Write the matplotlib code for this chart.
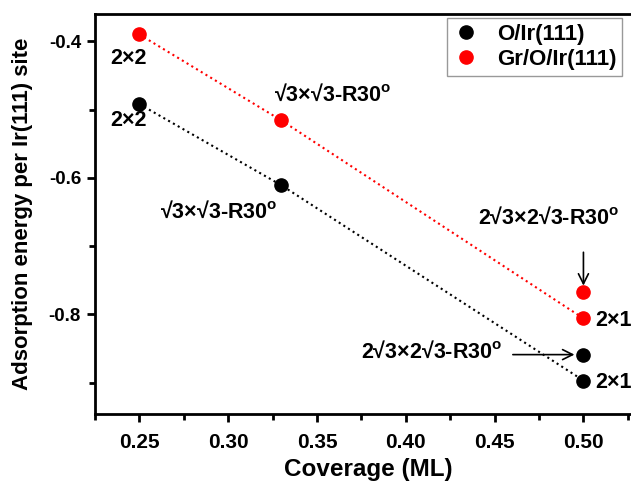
import matplotlib
matplotlib.use("Agg")
import matplotlib.pyplot as plt
from matplotlib.ticker import MultipleLocator

plt.rcParams['font.family'] = ['Liberation Sans', 'DejaVu Sans']
plt.rcParams['font.weight'] = 'bold'
plt.rcParams['mathtext.fontset'] = 'custom'
plt.rcParams['mathtext.rm'] = 'Liberation Sans:bold'
plt.rcParams['mathtext.bf'] = 'Liberation Sans:bold'

# data
cov = [0.25, 0.33, 0.50, 0.50]
e_o = [-0.492, -0.611, -0.859, -0.897]      # O/Ir(111)
e_gr = [-0.390, -0.516, -0.768, -0.806]     # Gr/O/Ir(111)
line_idx = [0, 1, 3]  # points joined by the dotted line

deg = r"$^\mathrm{o}$"
r3 = "√3×√3-R30" + deg
r23 = "2√3×2√3-R30" + deg

fig = plt.figure(figsize=(6.31, 4.88), dpi=100)
ax = fig.add_axes([95/631, 74/488, 550.6/631, 400/488])

ax.plot([cov[i] for i in line_idx], [e_o[i] for i in line_idx], ':', color='black', lw=1.5)
ax.plot([cov[i] for i in line_idx], [e_gr[i] for i in line_idx], ':', color='red', lw=1.5)
ax.plot(cov, e_o, 'o', color='black', ms=9.5, ls='none', label='O/Ir(111)')
ax.plot(cov, e_gr, 'o', color='red', ms=9.5, ls='none', label='Gr/O/Ir(111)')

fs = 15.5
ax.text(0.2334, -0.425, "2×2", fontsize=fs, va='center', ha='left')
ax.text(0.2334, -0.516, "2×2", fontsize=fs, va='center', ha='left')
ax.text(0.326, -0.479, r3, fontsize=fs, va='center', ha='left')
ax.text(0.2616, -0.650, r3, fontsize=fs, va='center', ha='left')
ax.text(0.4407, -0.659, r23, fontsize=fs, va='center', ha='left')
ax.annotate("", xy=(0.50, -0.762), xytext=(0.50, -0.705),
            arrowprops=dict(arrowstyle='->', color='black', lw=1.2, mutation_scale=18))
ax.text(0.5065, -0.809, "2×1", fontsize=fs, va='center', ha='left')
ax.text(0.3745, -0.856, r23, fontsize=fs, va='center', ha='left')
ax.annotate("", xy=(0.4965, -0.859), xytext=(0.4587, -0.859),
            arrowprops=dict(arrowstyle='->', color='black', lw=1.2, mutation_scale=18))
ax.text(0.5065, -0.900, "2×1", fontsize=fs, va='center', ha='left')

ax.set_xlim(0.225, 0.535)
ax.set_ylim(-0.946, -0.36)
ax.xaxis.set_major_locator(MultipleLocator(0.05))
ax.xaxis.set_minor_locator(MultipleLocator(0.025))
ax.yaxis.set_major_locator(MultipleLocator(0.2))
ax.yaxis.set_minor_locator(MultipleLocator(0.1))
ax.xaxis.set_major_formatter(plt.FormatStrFormatter('%.2f'))
ax.yaxis.set_major_formatter(plt.FormatStrFormatter('%.1f'))
ax.tick_params(which='major', direction='out', length=6, width=2)
ax.tick_params(which='minor', direction='out', length=4, width=2)
ax.tick_params(axis='x', labelsize=15, pad=8)
ax.tick_params(axis='y', labelsize=13.5, pad=4)
for s in ax.spines.values():
    s.set_linewidth(2)

ax.set_xlabel("Coverage (ML)", fontsize=17.5, fontweight='bold')
ax.xaxis.set_label_coords((368 - 95)/550.6, -0.11)
ax.set_ylabel("Adsorption energy per Ir(111) site", fontsize=16, fontweight='bold')
ax.yaxis.set_label_coords((33 - 95)/550.6, 0.5)

leg = ax.legend(loc='upper left', bbox_to_anchor=(447/631, 1 - 18/488), bbox_transform=fig.transFigure,
                fontsize=16, frameon=True, fancybox=False, borderpad=0.25, handletextpad=0.8,
                labelspacing=0.2, handlelength=1.2, borderaxespad=0)
leg.get_frame().set_edgecolor('gray')
leg.get_frame().set_linewidth(1)

fig.savefig("out.png", dpi=100)
